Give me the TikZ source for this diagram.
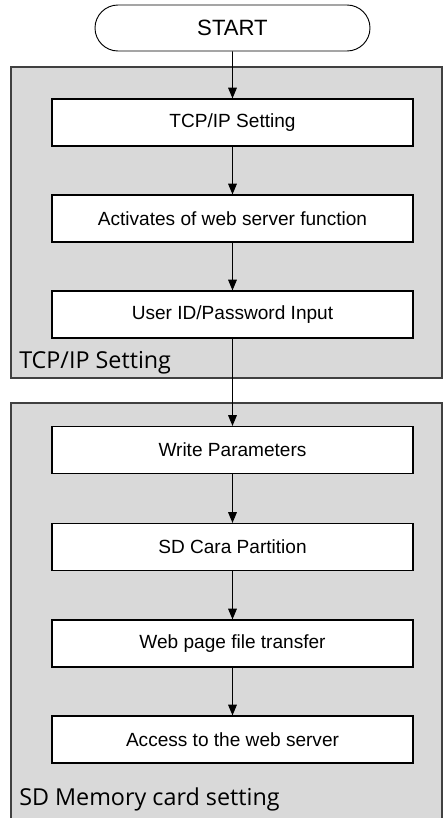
\documentclass[tikz,border=0pt]{standalone}
\usepackage{fontspec}
\setmainfont{Liberation Sans}
\newfontfamily\grpfont{Open Sans}
\usetikzlibrary{arrows.meta,shapes.misc}
\definecolor{grpfill}{HTML}{D9D9D9}
\definecolor{grpline}{HTML}{404040}
\tikzset{
  grp/.style={draw=grpline, fill=grpfill, line width=0.9pt},
  stepbox/.style={draw=black, fill=white, line width=0.9pt, minimum width=361*0.75pt, minimum height=47*0.75pt, inner sep=0pt, font=\fontsize{14.3pt}{16pt}\selectfont},
  startnode/.style={draw=black, fill=white, line width=0.7pt, rounded rectangle, minimum width=275*0.75pt, minimum height=46*0.75pt, inner sep=0pt, font=\fontsize{16.6pt}{18pt}\selectfont},
  flow/.style={-{Triangle[length=8pt,width=6.5pt]}, line width=0.7pt},
  grplabel/.style={anchor=west, inner sep=0pt, font=\grpfont\fontsize{17.5pt}{19pt}\selectfont}
}
\begin{document}
\begin{tikzpicture}[x=0.75pt, y=-0.75pt]
\useasboundingbox (0,0) rectangle (443,818);
\fill[white] (0,0) rectangle (443,818);
% groups
\draw[grp] (11,67) rectangle (442,378);
\fill[grpfill] (11,403) rectangle (443,818);
\draw[grpline, line width=0.9pt] (11,818) -- (11,403) -- (442,403) -- (442,818);
\node[grplabel] (l1) at (19,363) {TCP/IP Setting};
\node[grplabel] (l2) at (19,799) {SD Memory card setting};
% nodes
\node[startnode] (start) at (232.5,28) {START};
\node[stepbox] (s1) at (232.5,122.5) {TCP/IP Setting};
\node[stepbox] (s2) at (232.5,218.5) {Activates of web server function};
\node[stepbox] (s3) at (232.5,314.5) {User ID/Password Input};
\node[stepbox] (s4) at (232.5,450) {Write Parameters};
\node[stepbox] (s5) at (232.5,547) {SD Cara Partition};
\node[stepbox] (s6) at (232.5,643.5) {Web page file transfer};
\node[stepbox] (s7) at (232.5,739.5) {Access to the web server};
% connectors
\draw[flow] (start) -- (s1);
\draw[flow] (s1) -- (s2);
\draw[flow] (s2) -- (s3);
\draw[flow] (s3) -- (s4);
\draw[flow] (s4) -- (s5);
\draw[flow] (s5) -- (s6);
\draw[flow] (s6) -- (s7);
\end{tikzpicture}
\end{document}
